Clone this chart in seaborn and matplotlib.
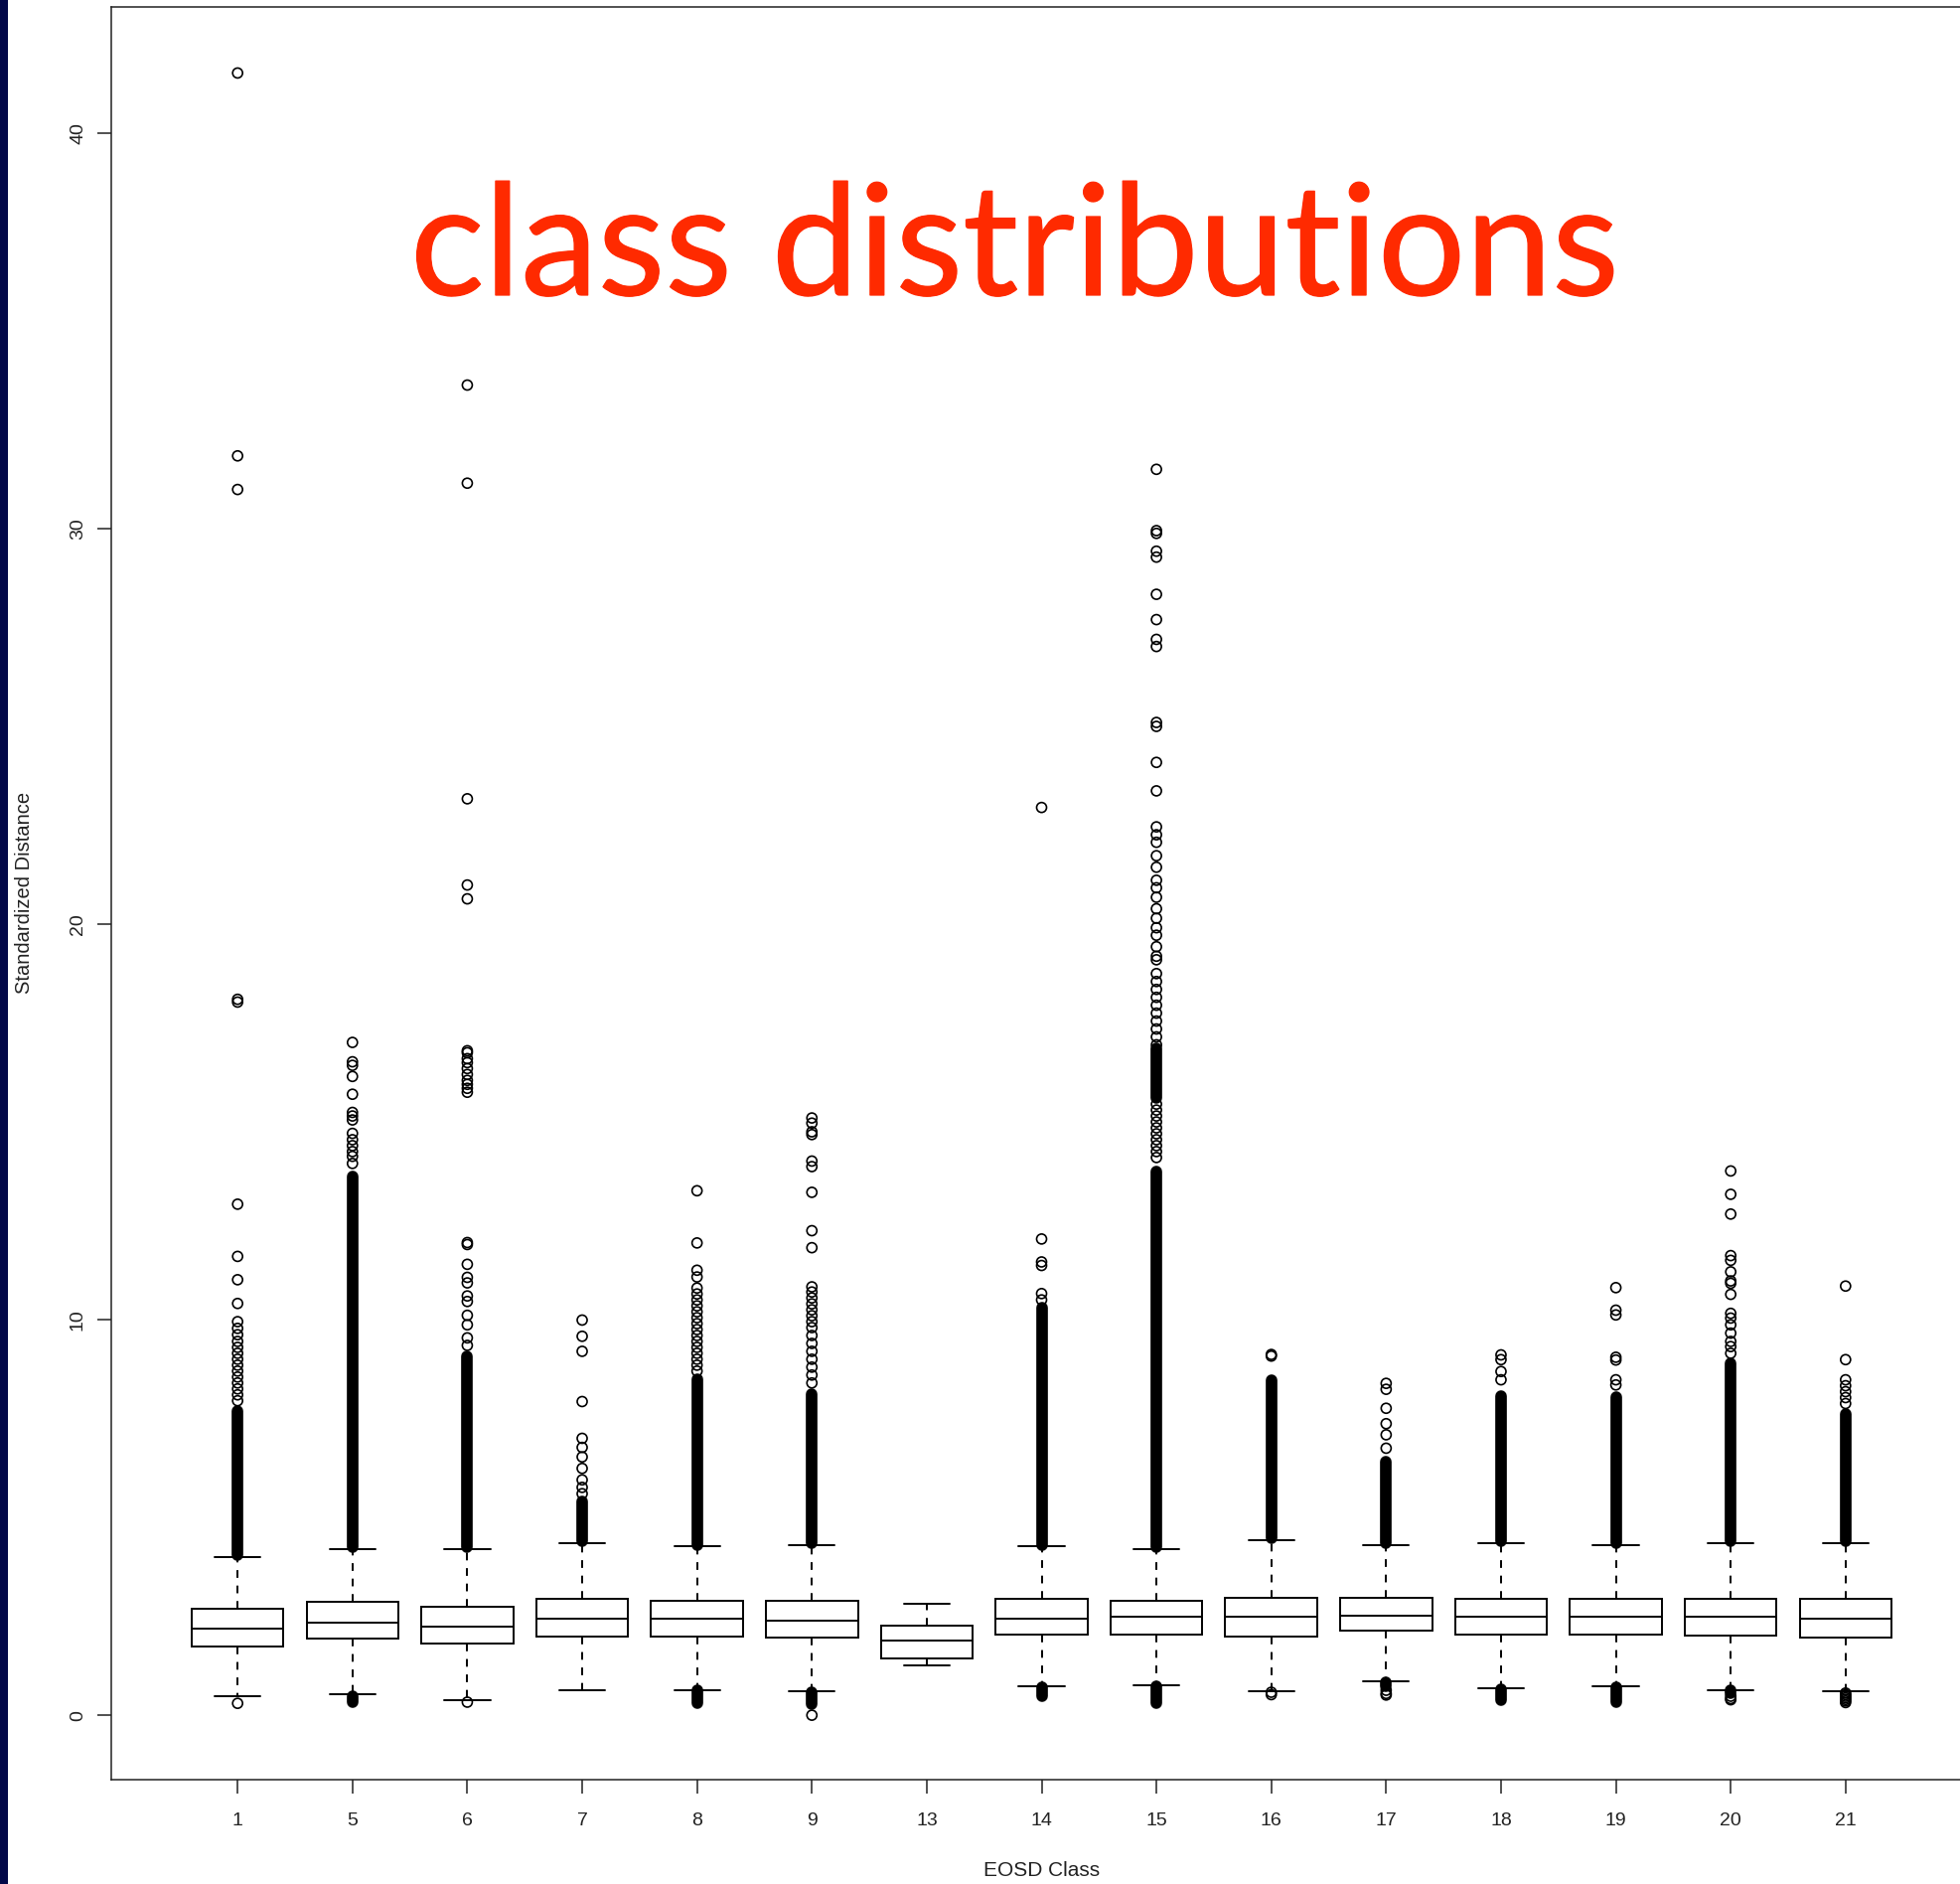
import numpy as np
import pandas as pd
import matplotlib
matplotlib.use("Agg")
import matplotlib.pyplot as plt
from matplotlib.patches import Rectangle
import matplotlib.patheffects as pe
import seaborn as sns

# ---------------- data ----------------
classes = ["1", "5", "6", "7", "8", "9", "13", "14", "15", "16", "17", "18", "19", "20", "21"]

whisker_low  = [0.47, 0.54, 0.38, 0.64, 0.64, 0.60, 1.27, 0.72, 0.76, 0.60, 0.85, 0.68, 0.72, 0.64, 0.60]
q1           = [1.74, 1.93, 1.80, 2.00, 1.99, 1.97, 1.44, 2.05, 2.05, 1.99, 2.14, 2.05, 2.05, 2.01, 1.97]
median       = [2.18, 2.35, 2.23, 2.44, 2.43, 2.40, 1.88, 2.43, 2.48, 2.48, 2.52, 2.48, 2.48, 2.48, 2.44]
q3           = [2.69, 2.86, 2.73, 2.94, 2.90, 2.90, 2.26, 2.94, 2.90, 2.98, 2.98, 2.94, 2.94, 2.94, 2.94]
whisker_high = [4.00, 4.21, 4.21, 4.34, 4.27, 4.30, 2.81, 4.27, 4.21, 4.42, 4.30, 4.34, 4.30, 4.34, 4.34]

# individually visible outliers
outliers_1 = [41.52, 31.84, 30.99, 18.10, 18.03, 12.92, 11.60, 11.01, 10.41, 9.95, 9.78, 9.62, 9.45,
              9.30, 9.15, 9.00, 8.85, 8.70, 8.55, 8.40, 8.25, 8.10, 7.95, 0.30]
outliers_5 = [17.01, 16.52, 16.43, 16.15, 15.70, 15.24, 15.15, 15.05, 14.71, 14.55, 14.40, 14.25,
              14.13, 13.95]
outliers_6 = [33.63, 31.15, 23.17, 20.99, 20.64, 16.80, 16.75, 16.60, 16.50, 16.35, 16.20, 16.05,
              15.95, 15.85, 15.75, 11.95, 11.90, 11.40, 11.07, 10.93, 10.60, 10.46, 10.11, 9.87,
              9.54, 9.35, 0.33]
outliers_7 = [9.99, 9.58, 9.20, 7.93, 7.00, 6.77, 6.53, 6.24, 5.95, 5.76, 5.60]
outliers_8 = [13.26, 11.94, 11.25, 11.08, 10.80, 10.65, 10.50, 10.35, 10.20, 10.05, 9.90, 9.75,
              9.60, 9.45, 9.30, 9.15, 9.00, 8.85, 8.70]
outliers_9 = [15.10, 14.97, 14.75, 14.68, 14.01, 13.87, 13.22, 12.25, 11.82, 10.83, 10.70, 10.55,
              10.40, 10.25, 10.10, 9.95, 9.80, 9.60, 9.40, 9.20, 9.00, 8.80, 8.60, 8.40, 0.00]
outliers_13 = []
outliers_14 = [22.95, 12.04, 11.46, 11.37, 10.66, 10.50]
outliers_15 = [31.50, 29.95, 29.88, 29.43, 29.28, 28.34, 27.70, 27.20, 27.02, 25.10, 25.00, 24.09,
               23.37, 22.46, 22.26, 22.07, 21.73, 21.44, 21.11, 20.92, 20.68, 20.39, 20.15, 19.91,
               19.72, 19.43, 19.19, 19.10, 18.75, 18.55, 18.35, 18.15, 17.95, 17.75, 17.55, 17.35,
               17.15, 16.95, 15.45, 15.30, 15.15, 15.00, 14.85, 14.70, 14.55, 14.40, 14.25, 14.10]
outliers_16 = [9.12, 9.08, 0.58, 0.52]
outliers_17 = [8.39, 8.24, 7.76, 7.37, 7.09, 6.75, 0.63, 0.55, 0.51]
outliers_18 = [9.11, 8.99, 8.69, 8.48]
outliers_19 = [10.81, 10.24, 10.12, 9.05, 8.98, 8.48, 8.35]
outliers_20 = [13.76, 13.17, 12.67, 11.62, 11.50, 11.21, 10.98, 10.92, 10.64, 10.16, 10.04, 9.87,
               9.66, 9.45, 9.32, 9.15, 0.48, 0.42, 0.39]
outliers_21 = [10.85, 8.99, 8.48, 8.33, 8.18, 8.03, 7.88, 0.56, 0.52, 0.48, 0.44, 0.40, 0.36, 0.32]

# ranges where outliers overlap into a solid column
dense_class = ["1", "5", "6", "7", "8", "9", "14", "15", "15", "16", "17", "18", "19", "20", "21",
               "5", "8", "9", "14", "15", "17", "18", "19", "20"]
dense_low   = [4.05, 4.25, 4.25, 4.40, 4.30, 4.35, 4.30, 4.25, 15.60, 4.47, 4.35, 4.39, 4.35, 4.39, 4.39,
               0.34, 0.30, 0.27, 0.47, 0.30, 0.72, 0.38, 0.34, 0.55]
dense_high  = [7.70, 13.62, 9.06, 5.41, 8.50, 8.12, 10.30, 13.75, 16.85, 8.48, 6.41, 8.08, 8.04, 8.90, 7.62,
               0.49, 0.62, 0.58, 0.70, 0.74, 0.82, 0.66, 0.70, 0.62]

y_ticks = [0, 10, 20, 30, 40]
title_text = "class distributions"
x_label = "EOSD Class"
y_label = "Standardized Distance"

# ---------------- style ----------------
sns.set_theme(style="white")
plt.rcParams["font.family"] = ["Liberation Sans", "DejaVu Sans"]

W, H = 1973, 1896
fig = plt.figure(figsize=(W / 100, H / 100), dpi=100)
fig.patch.set_facecolor("white")

ax_left, ax_right, ax_top, ax_bottom = 112, 1985, 7, 1791
ax = fig.add_axes([ax_left / W, 1 - ax_bottom / H, (ax_right - ax_left) / W, (ax_bottom - ax_top) / H])
ax.set_facecolor("white")

box_df = pd.DataFrame({
    "EOSD Class": np.repeat(classes, 5),
    "Standardized Distance": np.column_stack([whisker_low, q1, median, q3, whisker_high]).ravel(),
})

sns.boxplot(data=box_df, x="EOSD Class", y="Standardized Distance", order=classes,
            whis=(0, 100), width=0.8, color="white", linecolor="black", linewidth=1.4,
            saturation=1, showfliers=False,
            whiskerprops=dict(linestyle=(0, (4, 4))), ax=ax)

outlier_lists = [outliers_1, outliers_5, outliers_6, outliers_7, outliers_8, outliers_9, outliers_13,
                 outliers_14, outliers_15, outliers_16, outliers_17, outliers_18, outliers_19,
                 outliers_20, outliers_21]
out_df = pd.DataFrame({
    "EOSD Class": np.concatenate([[c] * len(v) for c, v in zip(classes, outlier_lists)]),
    "Standardized Distance": np.concatenate([np.asarray(v, dtype=float) for v in outlier_lists]),
})
sns.stripplot(data=out_df, x="EOSD Class", y="Standardized Distance", order=classes,
              jitter=False, size=7.2, color="black", facecolors="none", edgecolor="black",
              linewidth=1.2, ax=ax, zorder=4)

positions = [classes.index(c) for c in dense_class]
lc = ax.vlines(positions, dense_low, dense_high, colors="black", linewidth=8.4, zorder=4)
lc.set_capstyle("round")

ax.set_xlim(-1.1, 15.1)
ax.set_ylim(-1.63, 43.19)
ax.set_yticks(y_ticks)
ax.set_xticks(range(len(classes)))
ax.set_xticklabels(classes)

for sp in ax.spines.values():
    sp.set_visible(True)
    sp.set_color("#222222")
    sp.set_linewidth(1.1)

ax.tick_params(axis="both", which="major", direction="out", length=10, width=1.1,
               color="#222222", labelsize=14, labelcolor="#222222",
               bottom=True, left=True, top=False, right=False)
ax.tick_params(axis="x", pad=14)
ax.tick_params(axis="y", pad=8)
for lab in ax.get_yticklabels():
    lab.set_rotation(90)
    lab.set_va("center")

ax.set_xlabel(x_label, fontsize=15, color="#222222")
ax.set_ylabel(y_label, fontsize=14.5, color="#222222")
ax.xaxis.set_label_coords(0.5, (ax_bottom - 1882) / (ax_bottom - ax_top))
ax.xaxis.label.set_va("center")
ax.yaxis.set_label_coords((24 - ax_left) / (ax_right - ax_left), (ax_bottom - 898) / (ax_bottom - ax_top))
ax.yaxis.label.set_va("center")

# title overlay
title_color = "#ff2a00"
title = fig.text(413 / W, 1 - 297 / H, title_text, fontsize=130, family=["Lato", "DejaVu Sans"],
                 color=title_color, ha="left", va="baseline", zorder=20)
title.set_path_effects([pe.withStroke(linewidth=0.9, foreground=title_color)])
fig.canvas.draw()
bb = title.get_window_extent(renderer=fig.canvas.get_renderer())
title.set_fontsize(130 * (1630 - 413) / bb.width)

# dark strip at the left edge
fig.add_artist(Rectangle((0, 0), 8 / W, 1, transform=fig.transFigure,
                         facecolor="#020848", edgecolor="none", zorder=30))

fig.savefig("out.png", dpi=100, facecolor="white")
